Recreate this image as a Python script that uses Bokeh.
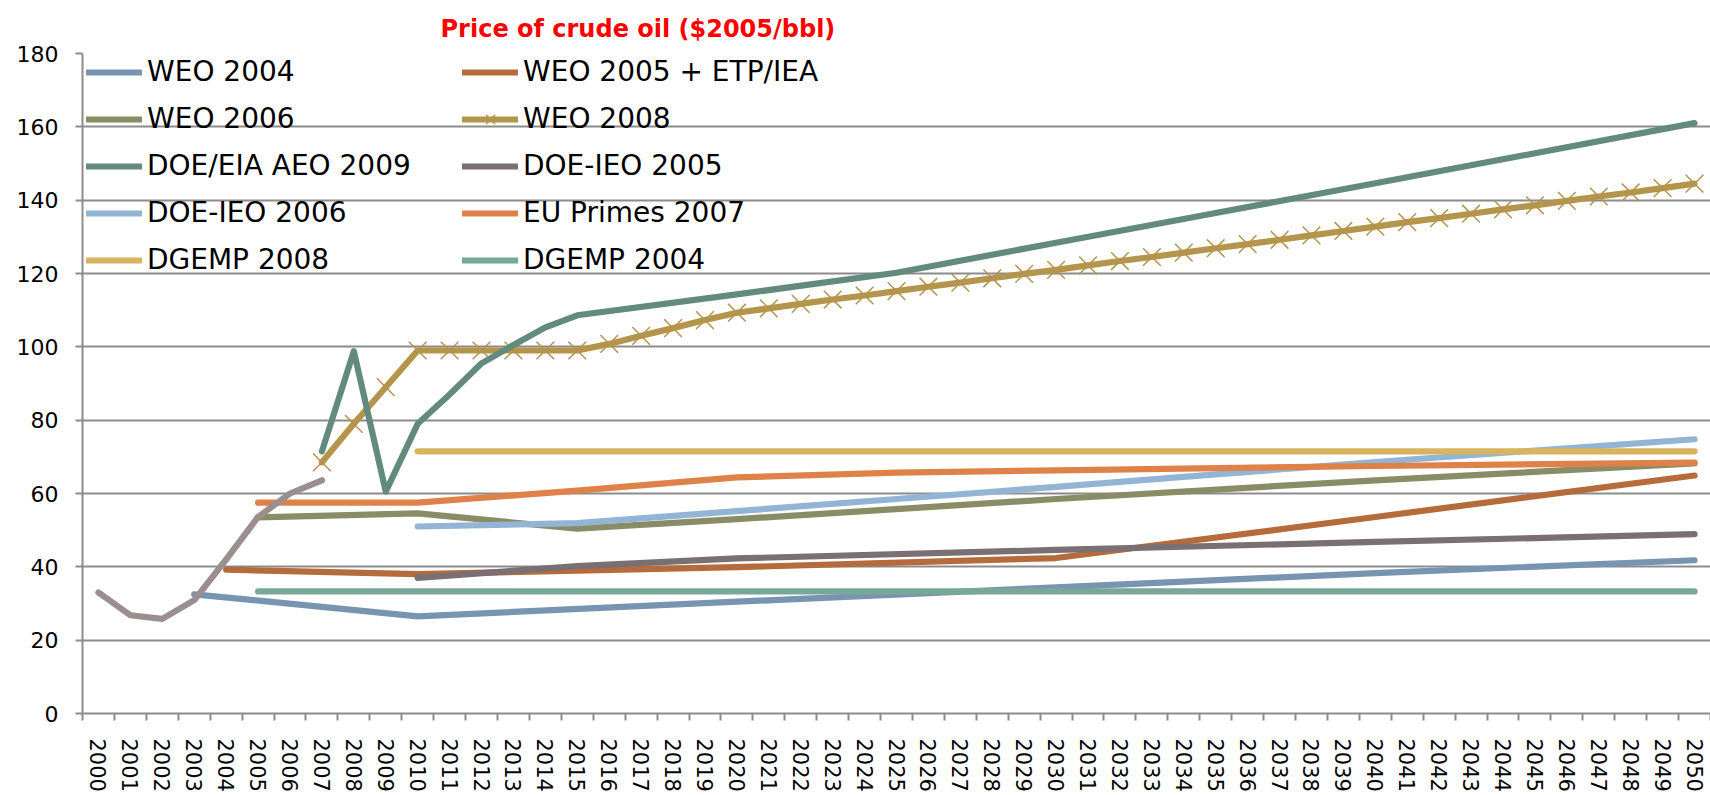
from bokeh.plotting import figure
from bokeh.models import Range1d, FixedTicker, Legend, LegendItem, Title
from bokeh.embed import file_html
from bokeh.resources import INLINE

# ---------------- data ----------------
years = list(range(2000, 2051))
y_ticks = [0, 20, 40, 60, 80, 100, 120, 140, 160, 180]

hist_years = [2000, 2001, 2002, 2003, 2004, 2005, 2006, 2007]
hist_vals = [33.0, 26.8, 25.8, 30.9, 42.0, 53.6, 60.0, 63.6]

weo2004_years = [2003, 2010, 2020, 2030, 2040, 2050]
weo2004_vals = [32.5, 26.5, 30.5, 34.4, 38.3, 41.8]

weo2005_years = [2004, 2010, 2020, 2030, 2040, 2050]
weo2005_vals = [39.2, 38.0, 39.9, 42.4, 53.6, 64.9]

weo2006_years = [2005, 2010, 2015, 2020, 2030, 2040, 2050]
weo2006_vals = [53.5, 54.6, 50.4, 53.0, 58.5, 63.6, 68.2]

weo2008_years = list(range(2007, 2051))
weo2008_vals = [68.5, 79.0, 89.0, 99.0, 99.0, 99.0, 99.0, 99.0, 99.0,
                100.8, 103.0, 105.1, 107.3, 109.3, 110.5, 111.7, 112.9,
                114.0, 115.2, 116.4, 117.5, 118.7, 119.9, 121.0, 122.2,
                123.4, 124.5, 125.7, 126.9, 128.0, 129.2, 130.4, 131.6,
                132.8, 134.0, 135.1, 136.3, 137.5, 138.6, 139.8, 141.0,
                142.1, 143.3, 144.5]

aeo2009_years = [2007, 2008, 2009, 2010, 2011, 2012, 2013, 2014, 2015,
                 2020, 2025, 2030, 2035, 2040, 2045, 2050]
aeo2009_vals = [71.5, 98.8, 60.5, 79.0, 87.0, 95.5, 100.5, 105.3, 108.6,
                114.3, 120.2, 128.4, 136.5, 144.6, 152.8, 161.0]

ieo2005_years = [2010, 2015, 2020, 2030, 2040, 2050]
ieo2005_vals = [37.0, 40.2, 42.3, 44.6, 46.8, 48.9]

ieo2006_years = [2010, 2015, 2020, 2025, 2030, 2035, 2040, 2045, 2050]
ieo2006_vals = [51.0, 51.9, 55.2, 58.5, 61.8, 65.2, 68.6, 71.7, 74.8]

eu2007_years = [2005, 2010, 2015, 2020, 2025, 2030, 2040, 2050]
eu2007_vals = [57.5, 57.5, 60.8, 64.4, 65.7, 66.3, 67.5, 68.4]

dgemp2008_years = [2010, 2050]
dgemp2008_vals = [71.5, 71.5]

dgemp2004_years = [2005, 2050]
dgemp2004_vals = [33.3, 33.3]

title_text = "Price of crude oil ($2005/bbl)"

# ---------------- figure ----------------
W, H = 1710, 795
MB_L, MB_T, MB_B, MB_R = 82, 53, 82, 0
FRAME_H = H - MB_T - MB_B

p = figure(width=W, height=H, output_backend="svg", toolbar_location=None,
           x_range=Range1d(years[0] - 0.5, years[-1] + 0.5),
           y_range=Range1d(y_ticks[0], y_ticks[-1]),
           min_border_left=MB_L, min_border_top=MB_T,
           min_border_bottom=MB_B, min_border_right=MB_R, title=None)
p.outline_line_color = None
p.background_fill_color = "white"
p.border_fill_color = "white"

ttl = Title(text=title_text, align="left", offset=358, vertical_align="bottom",
            standoff=22, text_font="DejaVu Sans", text_font_style="bold",
            text_font_size="24px", text_color="#ff0000")
p.add_layout(ttl, "above")

GRID = "#8c8c8c"
p.xgrid.visible = False
p.ygrid.grid_line_color = GRID
p.ygrid.grid_line_width = 2

# x axis
p.xaxis.ticker = FixedTicker(ticks=years, minor_ticks=[y - 0.5 for y in years] + [years[-1] + 0.5])
p.xaxis.major_label_orientation = "vertical"
p.xaxis.major_tick_line_color = None
p.xaxis.major_tick_out = 7
p.xaxis.major_tick_in = 0
p.xaxis.minor_tick_line_color = GRID
p.xaxis.minor_tick_line_width = 2
p.xaxis.minor_tick_out = 7
p.xaxis.minor_tick_in = 0
p.xaxis.axis_line_color = GRID
p.xaxis.axis_line_width = 2
p.xaxis.major_label_standoff = 18
p.xaxis.major_label_text_font = "DejaVu Sans"
p.xaxis.major_label_text_font_size = "21px"
p.xaxis.major_label_text_color = "black"

# y axis
p.yaxis.ticker = FixedTicker(ticks=y_ticks)
p.yaxis.major_tick_line_color = GRID
p.yaxis.major_tick_line_width = 2
p.yaxis.major_tick_out = 7
p.yaxis.major_tick_in = 0
p.yaxis.minor_tick_line_color = None
p.yaxis.axis_line_color = GRID
p.yaxis.axis_line_width = 2
p.yaxis.major_label_standoff = 17
p.yaxis.major_label_text_font = "DejaVu Sans"
p.yaxis.major_label_text_font_size = "22px"
p.yaxis.major_label_text_color = "black"

LW = 6.2
def line(xs, ys, color):
    return p.line(xs, ys, line_color=color, line_width=LW,
                  line_cap="round", line_join="round")

r_weo2004 = line(weo2004_years, weo2004_vals, "#7794b0")
r_weo2005 = line(weo2005_years, weo2005_vals, "#b66b3c")
r_weo2006 = line(weo2006_years, weo2006_vals, "#8a8c65")
r_weo2008 = line(weo2008_years, weo2008_vals, "#b5944b")
r_weo2008m = p.scatter(weo2008_years, weo2008_vals, marker="x", size=25,
                       line_color="#b5944b", line_width=1.5)
r_aeo2009 = line(aeo2009_years, aeo2009_vals, "#628b7e")
r_ieo2005 = line(ieo2005_years, ieo2005_vals, "#7a6f73")
r_ieo2006 = line(ieo2006_years, ieo2006_vals, "#93b5d5")
r_eu2007 = line(eu2007_years, eu2007_vals, "#df8249")
r_dg2008 = line(dgemp2008_years, dgemp2008_vals, "#d9b45e")
r_dg2004 = line(dgemp2004_years, dgemp2004_vals, "#7aa898")
r_hist = line(hist_years, hist_vals, "#9a8e8e")

# legends (two columns)
ROW, SP = 32, 14
LEG_H = 5 * ROW + 4 * SP
def make_legend(items, x_off):
    return Legend(items=items, location=(x_off, FRAME_H - 7 - LEG_H),
                  orientation="vertical", padding=0, margin=0, spacing=SP,
                  label_height=ROW, glyph_height=ROW, glyph_width=56,
                  label_standoff=5, label_text_font="DejaVu Sans",
                  label_text_font_size="28px", label_text_color="black",
                  background_fill_alpha=0, border_line_alpha=0)

leg1 = make_legend([
    LegendItem(label="WEO 2004", renderers=[r_weo2004]),
    LegendItem(label="WEO 2006", renderers=[r_weo2006]),
    LegendItem(label="DOE/EIA AEO 2009", renderers=[r_aeo2009]),
    LegendItem(label="DOE-IEO 2006", renderers=[r_ieo2006]),
    LegendItem(label="DGEMP 2008", renderers=[r_dg2008]),
], 4)
leg2 = make_legend([
    LegendItem(label="WEO 2005 + ETP/IEA", renderers=[r_weo2005]),
    LegendItem(label="WEO 2008", renderers=[r_weo2008, r_weo2008m]),
    LegendItem(label="DOE-IEO 2005", renderers=[r_ieo2005]),
    LegendItem(label="EU Primes 2007", renderers=[r_eu2007]),
    LegendItem(label="DGEMP 2004", renderers=[r_dg2004]),
], 380)
p.add_layout(leg1, "center")
p.add_layout(leg2, "center")

open("out.html", "w").write(file_html(p, INLINE))
